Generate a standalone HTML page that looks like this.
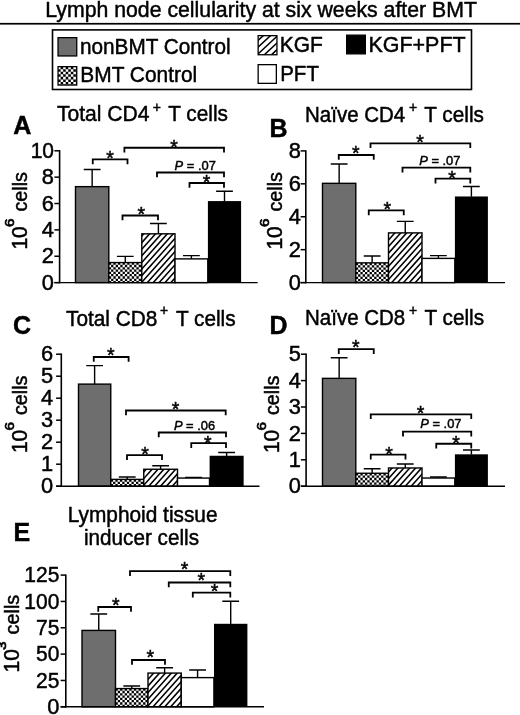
<!DOCTYPE html>
<html><head><meta charset="utf-8"><title>Lymph node cellularity</title>
<style>
html,body{margin:0;padding:0;background:#fff;}
svg{display:block;}
text{font-family:"Liberation Sans",sans-serif;fill:#000;stroke:#000;stroke-width:0.45px;}
.b{font-weight:bold;}
.i{font-style:italic;}
.s{stroke-width:0.7px;}
</style></head><body>
<svg width="520" height="715" viewBox="0 0 520 715">
<rect width="520" height="715" fill="#fff"/>

<text transform="translate(45.30,17.30) scale(1,1.04)" font-size="21.27">Lymph node cellularity at six weeks after BMT</text>
<rect x="0" y="22.9" width="520" height="1.7" fill="#000"/>
<rect x="52.5" y="29.9" width="419" height="59.6" fill="#fff" stroke="#000" stroke-width="1.6"/>
<rect x="58.05" y="37.65" width="18.70" height="18.30" fill="#6e6e6e" stroke="#000" stroke-width="1.3"/>
<text transform="translate(80.00,53.60) scale(1,1.04)" font-size="20.75">nonBMT Control</text>
<text transform="translate(80.30,81.70) scale(1,1.04)" font-size="20.9">BMT Control</text>
<text transform="translate(279.70,51.90) scale(1,1.04)" font-size="21">KGF</text>
<rect x="258.15" y="64.65" width="18.20" height="18.70" fill="#fff" stroke="#000" stroke-width="1.3"/>
<text transform="translate(280.20,81.20) scale(1,1.04)" font-size="20.5">PFT</text>
<rect x="346.65" y="35.15" width="18.70" height="18.70" fill="#000" stroke="#000" stroke-width="1.3"/>
<text transform="translate(368.50,51.70) scale(1,1.04)" font-size="21.45">KGF+PFT</text>
<clipPath id="c1"><rect x="58.05" y="66.65" width="18.70" height="18.40"/></clipPath>
<rect x="58.05" y="66.65" width="18.70" height="18.40" fill="#fff"/>
<path clip-path="url(#c1)" d="M60.60,66.65h2.55v2.55h-2.55zM65.70,66.65h2.55v2.55h-2.55zM70.80,66.65h2.55v2.55h-2.55zM75.90,66.65h2.55v2.55h-2.55zM58.05,69.20h2.55v2.55h-2.55zM63.15,69.20h2.55v2.55h-2.55zM68.25,69.20h2.55v2.55h-2.55zM73.35,69.20h2.55v2.55h-2.55zM78.45,69.20h2.55v2.55h-2.55zM60.60,71.75h2.55v2.55h-2.55zM65.70,71.75h2.55v2.55h-2.55zM70.80,71.75h2.55v2.55h-2.55zM75.90,71.75h2.55v2.55h-2.55zM58.05,74.30h2.55v2.55h-2.55zM63.15,74.30h2.55v2.55h-2.55zM68.25,74.30h2.55v2.55h-2.55zM73.35,74.30h2.55v2.55h-2.55zM78.45,74.30h2.55v2.55h-2.55zM60.60,76.85h2.55v2.55h-2.55zM65.70,76.85h2.55v2.55h-2.55zM70.80,76.85h2.55v2.55h-2.55zM75.90,76.85h2.55v2.55h-2.55zM58.05,79.40h2.55v2.55h-2.55zM63.15,79.40h2.55v2.55h-2.55zM68.25,79.40h2.55v2.55h-2.55zM73.35,79.40h2.55v2.55h-2.55zM78.45,79.40h2.55v2.55h-2.55zM60.60,81.95h2.55v2.55h-2.55zM65.70,81.95h2.55v2.55h-2.55zM70.80,81.95h2.55v2.55h-2.55zM75.90,81.95h2.55v2.55h-2.55zM58.05,84.50h2.55v2.55h-2.55zM63.15,84.50h2.55v2.55h-2.55zM68.25,84.50h2.55v2.55h-2.55zM73.35,84.50h2.55v2.55h-2.55zM78.45,84.50h2.55v2.55h-2.55zM60.60,87.05h2.55v2.55h-2.55zM65.70,87.05h2.55v2.55h-2.55zM70.80,87.05h2.55v2.55h-2.55zM75.90,87.05h2.55v2.55h-2.55z" fill="#000"/>
<rect x="58.05" y="66.65" width="18.70" height="18.40" fill="none" stroke="#000" stroke-width="1.3"/>
<clipPath id="c2"><rect x="258.15" y="35.65" width="18.80" height="19.10"/></clipPath>
<rect x="258.15" y="35.65" width="18.80" height="19.10" fill="#fff"/>
<path clip-path="url(#c2)" d="M256.15,28.86L278.95,7.66M256.15,35.56L278.95,14.36M256.15,42.26L278.95,21.06M256.15,48.96L278.95,27.76M256.15,55.66L278.95,34.46M256.15,62.36L278.95,41.16M256.15,69.06L278.95,47.86M256.15,75.76L278.95,54.56M256.15,82.46L278.95,61.26" stroke="#000" stroke-width="1.55" fill="none"/>
<rect x="258.15" y="35.65" width="18.80" height="19.10" fill="none" stroke="#000" stroke-width="1.3"/>
<path d="M92.15,186.65 V169.52 M83.75,169.52 H100.55" stroke="#000" stroke-width="1.4" fill="none"/>
<rect x="75.50" y="186.65" width="33.30" height="95.95" fill="#6e6e6e" stroke="#000" stroke-width="1.4"/>
<path d="M125.30,262.57 V256.37 M116.90,256.37 H133.70" stroke="#000" stroke-width="1.4" fill="none"/>
<clipPath id="c3"><rect x="108.80" y="262.57" width="33.00" height="20.03"/></clipPath>
<rect x="108.80" y="262.57" width="33.00" height="20.03" fill="#fff"/>
<path clip-path="url(#c3)" d="M108.80,262.57h2.3v2.3h-2.3zM113.40,262.57h2.3v2.3h-2.3zM118.00,262.57h2.3v2.3h-2.3zM122.60,262.57h2.3v2.3h-2.3zM127.20,262.57h2.3v2.3h-2.3zM131.80,262.57h2.3v2.3h-2.3zM136.40,262.57h2.3v2.3h-2.3zM141.00,262.57h2.3v2.3h-2.3zM111.10,264.87h2.3v2.3h-2.3zM115.70,264.87h2.3v2.3h-2.3zM120.30,264.87h2.3v2.3h-2.3zM124.90,264.87h2.3v2.3h-2.3zM129.50,264.87h2.3v2.3h-2.3zM134.10,264.87h2.3v2.3h-2.3zM138.70,264.87h2.3v2.3h-2.3zM143.30,264.87h2.3v2.3h-2.3zM108.80,267.17h2.3v2.3h-2.3zM113.40,267.17h2.3v2.3h-2.3zM118.00,267.17h2.3v2.3h-2.3zM122.60,267.17h2.3v2.3h-2.3zM127.20,267.17h2.3v2.3h-2.3zM131.80,267.17h2.3v2.3h-2.3zM136.40,267.17h2.3v2.3h-2.3zM141.00,267.17h2.3v2.3h-2.3zM111.10,269.47h2.3v2.3h-2.3zM115.70,269.47h2.3v2.3h-2.3zM120.30,269.47h2.3v2.3h-2.3zM124.90,269.47h2.3v2.3h-2.3zM129.50,269.47h2.3v2.3h-2.3zM134.10,269.47h2.3v2.3h-2.3zM138.70,269.47h2.3v2.3h-2.3zM143.30,269.47h2.3v2.3h-2.3zM108.80,271.77h2.3v2.3h-2.3zM113.40,271.77h2.3v2.3h-2.3zM118.00,271.77h2.3v2.3h-2.3zM122.60,271.77h2.3v2.3h-2.3zM127.20,271.77h2.3v2.3h-2.3zM131.80,271.77h2.3v2.3h-2.3zM136.40,271.77h2.3v2.3h-2.3zM141.00,271.77h2.3v2.3h-2.3zM111.10,274.07h2.3v2.3h-2.3zM115.70,274.07h2.3v2.3h-2.3zM120.30,274.07h2.3v2.3h-2.3zM124.90,274.07h2.3v2.3h-2.3zM129.50,274.07h2.3v2.3h-2.3zM134.10,274.07h2.3v2.3h-2.3zM138.70,274.07h2.3v2.3h-2.3zM143.30,274.07h2.3v2.3h-2.3zM108.80,276.37h2.3v2.3h-2.3zM113.40,276.37h2.3v2.3h-2.3zM118.00,276.37h2.3v2.3h-2.3zM122.60,276.37h2.3v2.3h-2.3zM127.20,276.37h2.3v2.3h-2.3zM131.80,276.37h2.3v2.3h-2.3zM136.40,276.37h2.3v2.3h-2.3zM141.00,276.37h2.3v2.3h-2.3zM111.10,278.67h2.3v2.3h-2.3zM115.70,278.67h2.3v2.3h-2.3zM120.30,278.67h2.3v2.3h-2.3zM124.90,278.67h2.3v2.3h-2.3zM129.50,278.67h2.3v2.3h-2.3zM134.10,278.67h2.3v2.3h-2.3zM138.70,278.67h2.3v2.3h-2.3zM143.30,278.67h2.3v2.3h-2.3zM108.80,280.97h2.3v2.3h-2.3zM113.40,280.97h2.3v2.3h-2.3zM118.00,280.97h2.3v2.3h-2.3zM122.60,280.97h2.3v2.3h-2.3zM127.20,280.97h2.3v2.3h-2.3zM131.80,280.97h2.3v2.3h-2.3zM136.40,280.97h2.3v2.3h-2.3zM141.00,280.97h2.3v2.3h-2.3zM111.10,283.27h2.3v2.3h-2.3zM115.70,283.27h2.3v2.3h-2.3zM120.30,283.27h2.3v2.3h-2.3zM124.90,283.27h2.3v2.3h-2.3zM129.50,283.27h2.3v2.3h-2.3zM134.10,283.27h2.3v2.3h-2.3zM138.70,283.27h2.3v2.3h-2.3zM143.30,283.27h2.3v2.3h-2.3z" fill="#000"/>
<rect x="108.80" y="262.57" width="33.00" height="20.03" fill="none" stroke="#000" stroke-width="1.4"/>
<path d="M158.40,233.83 V223.55 M150.00,223.55 H166.80" stroke="#000" stroke-width="1.4" fill="none"/>
<clipPath id="c4"><rect x="141.80" y="233.83" width="33.20" height="48.77"/></clipPath>
<rect x="141.80" y="233.83" width="33.20" height="48.77" fill="#fff"/>
<path clip-path="url(#c4)" d="M139.80,225.04L177.00,183.38M139.80,231.64L177.00,189.98M139.80,238.24L177.00,196.58M139.80,244.84L177.00,203.18M139.80,251.44L177.00,209.78M139.80,258.04L177.00,216.38M139.80,264.64L177.00,222.98M139.80,271.24L177.00,229.58M139.80,277.84L177.00,236.18M139.80,284.44L177.00,242.78M139.80,291.04L177.00,249.38M139.80,297.64L177.00,255.98M139.80,304.24L177.00,262.58M139.80,310.84L177.00,269.18M139.80,317.44L177.00,275.78M139.80,324.04L177.00,282.38M139.80,330.64L177.00,288.98" stroke="#000" stroke-width="1.55" fill="none"/>
<rect x="141.80" y="233.83" width="33.20" height="48.77" fill="none" stroke="#000" stroke-width="1.4"/>
<path d="M191.40,258.88 V255.58 M183.00,255.58 H199.80" stroke="#000" stroke-width="1.4" fill="none"/>
<rect x="175.00" y="258.88" width="32.80" height="23.72" fill="#fff" stroke="#000" stroke-width="1.4"/>
<path d="M224.50,201.28 V191.26 M216.10,191.26 H232.90" stroke="#000" stroke-width="1.4" fill="none"/>
<rect x="207.90" y="201.08" width="33.20" height="81.52" fill="#000"/>
<path d="M59.6,150.10 V283.30" stroke="#000" stroke-width="1.6" fill="none"/>
<path d="M54.4,282.60 H257.7" stroke="#000" stroke-width="1.4" fill="none"/>
<path d="M54.4,282.60 H59.6" stroke="#000" stroke-width="1.5"/>
<text transform="translate(54.00,289.70) scale(1.04,1.04)" font-size="21" text-anchor="end">0</text>
<path d="M54.4,256.24 H59.6" stroke="#000" stroke-width="1.5"/>
<text transform="translate(54.00,263.34) scale(1.04,1.04)" font-size="21" text-anchor="end">2</text>
<path d="M54.4,229.88 H59.6" stroke="#000" stroke-width="1.5"/>
<text transform="translate(54.00,236.98) scale(1.04,1.04)" font-size="21" text-anchor="end">4</text>
<path d="M54.4,203.52 H59.6" stroke="#000" stroke-width="1.5"/>
<text transform="translate(54.00,210.62) scale(1.04,1.04)" font-size="21" text-anchor="end">6</text>
<path d="M54.4,177.16 H59.6" stroke="#000" stroke-width="1.5"/>
<text transform="translate(54.00,184.26) scale(1.04,1.04)" font-size="21" text-anchor="end">8</text>
<path d="M54.4,150.80 H59.6" stroke="#000" stroke-width="1.5"/>
<text transform="translate(54.00,157.90) scale(1.0,1.04)" font-size="21" text-anchor="end">10</text>
<text transform="translate(26.70,249.58) rotate(-90) scale(1,1.04)" font-size="21">10</text>
<text transform="translate(13.70,227.11) rotate(-90) scale(1.18,1.04)" font-size="13" class="s">6</text>
<text transform="translate(26.70,211.59) rotate(-90) scale(1,1.04)" font-size="19.8">cells</text>
<path d="M92.75,164.20000000000002 V159.4 H127.5 V164.20000000000002" stroke="#000" stroke-width="1.8" fill="none"/>
<text transform="translate(106.20,164.64)" font-size="19.5">*</text>
<path d="M124.4,152.55 V147.75 H224 V152.55" stroke="#000" stroke-width="1.8" fill="none"/>
<text transform="translate(170.20,154.04)" font-size="19.5">*</text>
<path d="M157,177.3 V172.5 H224 V177.3" stroke="#000" stroke-width="1.8" fill="none"/>
<text transform="translate(174.60,169.50) scale(1,1.04)" font-size="12.9"><tspan class="i">P</tspan> = .07</text>
<path d="M189.5,187.8 V183 H224 V187.8" stroke="#000" stroke-width="1.8" fill="none"/>
<text transform="translate(202.70,188.84)" font-size="19.5">*</text>
<path d="M122.5,220.3 V215.5 H158 V220.3" stroke="#000" stroke-width="1.8" fill="none"/>
<text transform="translate(137.40,221.34)" font-size="19.5">*</text>
<text transform="translate(56.90,121.40) scale(1,1.04)" font-size="21.1">Total CD4</text>
<text transform="translate(152.81,111.72)" font-size="14">+</text>
<text transform="translate(168.20,121.40) scale(1,1.04)" font-size="20.8">T cells</text>
<text transform="translate(13.30,134.30) scale(1.02,1.04)" font-size="24.6" class="b">A</text>
<path d="M339.15,183.33 V164.07 M330.75,164.07 H347.55" stroke="#000" stroke-width="1.4" fill="none"/>
<rect x="322.50" y="183.33" width="33.30" height="99.27" fill="#6e6e6e" stroke="#000" stroke-width="1.4"/>
<path d="M372.15,262.85 V255.93 M363.75,255.93 H380.55" stroke="#000" stroke-width="1.4" fill="none"/>
<clipPath id="c5"><rect x="355.80" y="262.85" width="32.70" height="19.75"/></clipPath>
<rect x="355.80" y="262.85" width="32.70" height="19.75" fill="#fff"/>
<path clip-path="url(#c5)" d="M355.80,262.85h2.3v2.3h-2.3zM360.40,262.85h2.3v2.3h-2.3zM365.00,262.85h2.3v2.3h-2.3zM369.60,262.85h2.3v2.3h-2.3zM374.20,262.85h2.3v2.3h-2.3zM378.80,262.85h2.3v2.3h-2.3zM383.40,262.85h2.3v2.3h-2.3zM388.00,262.85h2.3v2.3h-2.3zM358.10,265.15h2.3v2.3h-2.3zM362.70,265.15h2.3v2.3h-2.3zM367.30,265.15h2.3v2.3h-2.3zM371.90,265.15h2.3v2.3h-2.3zM376.50,265.15h2.3v2.3h-2.3zM381.10,265.15h2.3v2.3h-2.3zM385.70,265.15h2.3v2.3h-2.3zM390.30,265.15h2.3v2.3h-2.3zM355.80,267.45h2.3v2.3h-2.3zM360.40,267.45h2.3v2.3h-2.3zM365.00,267.45h2.3v2.3h-2.3zM369.60,267.45h2.3v2.3h-2.3zM374.20,267.45h2.3v2.3h-2.3zM378.80,267.45h2.3v2.3h-2.3zM383.40,267.45h2.3v2.3h-2.3zM388.00,267.45h2.3v2.3h-2.3zM358.10,269.75h2.3v2.3h-2.3zM362.70,269.75h2.3v2.3h-2.3zM367.30,269.75h2.3v2.3h-2.3zM371.90,269.75h2.3v2.3h-2.3zM376.50,269.75h2.3v2.3h-2.3zM381.10,269.75h2.3v2.3h-2.3zM385.70,269.75h2.3v2.3h-2.3zM390.30,269.75h2.3v2.3h-2.3zM355.80,272.05h2.3v2.3h-2.3zM360.40,272.05h2.3v2.3h-2.3zM365.00,272.05h2.3v2.3h-2.3zM369.60,272.05h2.3v2.3h-2.3zM374.20,272.05h2.3v2.3h-2.3zM378.80,272.05h2.3v2.3h-2.3zM383.40,272.05h2.3v2.3h-2.3zM388.00,272.05h2.3v2.3h-2.3zM358.10,274.35h2.3v2.3h-2.3zM362.70,274.35h2.3v2.3h-2.3zM367.30,274.35h2.3v2.3h-2.3zM371.90,274.35h2.3v2.3h-2.3zM376.50,274.35h2.3v2.3h-2.3zM381.10,274.35h2.3v2.3h-2.3zM385.70,274.35h2.3v2.3h-2.3zM390.30,274.35h2.3v2.3h-2.3zM355.80,276.65h2.3v2.3h-2.3zM360.40,276.65h2.3v2.3h-2.3zM365.00,276.65h2.3v2.3h-2.3zM369.60,276.65h2.3v2.3h-2.3zM374.20,276.65h2.3v2.3h-2.3zM378.80,276.65h2.3v2.3h-2.3zM383.40,276.65h2.3v2.3h-2.3zM388.00,276.65h2.3v2.3h-2.3zM358.10,278.95h2.3v2.3h-2.3zM362.70,278.95h2.3v2.3h-2.3zM367.30,278.95h2.3v2.3h-2.3zM371.90,278.95h2.3v2.3h-2.3zM376.50,278.95h2.3v2.3h-2.3zM381.10,278.95h2.3v2.3h-2.3zM385.70,278.95h2.3v2.3h-2.3zM390.30,278.95h2.3v2.3h-2.3zM355.80,281.25h2.3v2.3h-2.3zM360.40,281.25h2.3v2.3h-2.3zM365.00,281.25h2.3v2.3h-2.3zM369.60,281.25h2.3v2.3h-2.3zM374.20,281.25h2.3v2.3h-2.3zM378.80,281.25h2.3v2.3h-2.3zM383.40,281.25h2.3v2.3h-2.3zM388.00,281.25h2.3v2.3h-2.3zM358.10,283.55h2.3v2.3h-2.3zM362.70,283.55h2.3v2.3h-2.3zM367.30,283.55h2.3v2.3h-2.3zM371.90,283.55h2.3v2.3h-2.3zM376.50,283.55h2.3v2.3h-2.3zM381.10,283.55h2.3v2.3h-2.3zM385.70,283.55h2.3v2.3h-2.3zM390.30,283.55h2.3v2.3h-2.3z" fill="#000"/>
<rect x="355.80" y="262.85" width="32.70" height="19.75" fill="none" stroke="#000" stroke-width="1.4"/>
<path d="M405.25,232.88 V221.36 M396.85,221.36 H413.65" stroke="#000" stroke-width="1.4" fill="none"/>
<clipPath id="c6"><rect x="388.50" y="232.88" width="33.50" height="49.72"/></clipPath>
<rect x="388.50" y="232.88" width="33.50" height="49.72" fill="#fff"/>
<path clip-path="url(#c6)" d="M386.50,222.44L424.00,180.44M386.50,229.04L424.00,187.04M386.50,235.64L424.00,193.64M386.50,242.24L424.00,200.24M386.50,248.84L424.00,206.84M386.50,255.44L424.00,213.44M386.50,262.04L424.00,220.04M386.50,268.64L424.00,226.64M386.50,275.24L424.00,233.24M386.50,281.84L424.00,239.84M386.50,288.44L424.00,246.44M386.50,295.04L424.00,253.04M386.50,301.64L424.00,259.64M386.50,308.24L424.00,266.24M386.50,314.84L424.00,272.84M386.50,321.44L424.00,279.44M386.50,328.04L424.00,286.04M386.50,334.64L424.00,292.64" stroke="#000" stroke-width="1.55" fill="none"/>
<rect x="388.50" y="232.88" width="33.50" height="49.72" fill="none" stroke="#000" stroke-width="1.4"/>
<path d="M438.40,258.40 V255.60 M430.00,255.60 H446.80" stroke="#000" stroke-width="1.4" fill="none"/>
<rect x="422.00" y="258.40" width="32.80" height="24.20" fill="#fff" stroke="#000" stroke-width="1.4"/>
<path d="M471.40,196.67 V186.46 M463.00,186.46 H479.80" stroke="#000" stroke-width="1.4" fill="none"/>
<rect x="454.90" y="196.47" width="33.00" height="86.13" fill="#000"/>
<path d="M305.8,150.20 V283.30" stroke="#000" stroke-width="1.6" fill="none"/>
<path d="M300.6,282.60 H505" stroke="#000" stroke-width="1.4" fill="none"/>
<path d="M300.6,282.60 H305.8" stroke="#000" stroke-width="1.5"/>
<text transform="translate(301.00,289.70) scale(1.04,1.04)" font-size="21" text-anchor="end">0</text>
<path d="M300.6,249.68 H305.8" stroke="#000" stroke-width="1.5"/>
<text transform="translate(301.00,256.77) scale(1.04,1.04)" font-size="21" text-anchor="end">2</text>
<path d="M300.6,216.75 H305.8" stroke="#000" stroke-width="1.5"/>
<text transform="translate(301.00,223.85) scale(1.04,1.04)" font-size="21" text-anchor="end">4</text>
<path d="M300.6,183.83 H305.8" stroke="#000" stroke-width="1.5"/>
<text transform="translate(301.00,190.92) scale(1.04,1.04)" font-size="21" text-anchor="end">6</text>
<path d="M300.6,150.90 H305.8" stroke="#000" stroke-width="1.5"/>
<text transform="translate(301.00,158.00) scale(1.04,1.04)" font-size="21" text-anchor="end">8</text>
<text transform="translate(282.20,249.58) rotate(-90) scale(1,1.04)" font-size="21">10</text>
<text transform="translate(269.20,227.11) rotate(-90) scale(1.18,1.04)" font-size="13" class="s">6</text>
<text transform="translate(282.20,211.59) rotate(-90) scale(1,1.04)" font-size="19.8">cells</text>
<path d="M338.75,159.8 V155.0 H373.75 V159.8" stroke="#000" stroke-width="1.8" fill="none"/>
<text transform="translate(351.95,160.04)" font-size="19.5">*</text>
<path d="M370.5,148.10000000000002 V143.3 H470.3 V148.10000000000002" stroke="#000" stroke-width="1.8" fill="none"/>
<text transform="translate(416.20,149.04)" font-size="19.5">*</text>
<path d="M402.5,172.5 V167.7 H470.3 V172.5" stroke="#000" stroke-width="1.8" fill="none"/>
<text transform="translate(419.20,164.50) scale(1,1.04)" font-size="12.9"><tspan class="i">P</tspan> = .07</text>
<path d="M435.5,183.4 V178.6 H470.3 V183.4" stroke="#000" stroke-width="1.8" fill="none"/>
<text transform="translate(448.20,185.04)" font-size="19.5">*</text>
<path d="M368.75,215.20000000000002 V210.4 H403.75 V215.20000000000002" stroke="#000" stroke-width="1.8" fill="none"/>
<text transform="translate(383.60,215.94)" font-size="19.5">*</text>
<text transform="translate(305.00,121.50) scale(1,1.04)" font-size="20.5">Naïve CD4</text>
<text transform="translate(408.91,111.72)" font-size="14">+</text>
<text transform="translate(424.20,121.50) scale(1,1.04)" font-size="20.8">T cells</text>
<text transform="translate(269.50,137.00) scale(1.0,1.04)" font-size="25" class="b">B</text>
<path d="M94.62,384.12 V365.64 M86.22,365.64 H103.03" stroke="#000" stroke-width="1.4" fill="none"/>
<rect x="78.50" y="384.12" width="32.25" height="102.08" fill="#6e6e6e" stroke="#000" stroke-width="1.4"/>
<path d="M127.25,479.38 V476.96 M118.85,476.96 H135.65" stroke="#000" stroke-width="1.4" fill="none"/>
<clipPath id="c7"><rect x="110.75" y="479.38" width="33.00" height="6.82"/></clipPath>
<rect x="110.75" y="479.38" width="33.00" height="6.82" fill="#fff"/>
<path clip-path="url(#c7)" d="M110.75,479.38h2.3v2.3h-2.3zM115.35,479.38h2.3v2.3h-2.3zM119.95,479.38h2.3v2.3h-2.3zM124.55,479.38h2.3v2.3h-2.3zM129.15,479.38h2.3v2.3h-2.3zM133.75,479.38h2.3v2.3h-2.3zM138.35,479.38h2.3v2.3h-2.3zM142.95,479.38h2.3v2.3h-2.3zM113.05,481.68h2.3v2.3h-2.3zM117.65,481.68h2.3v2.3h-2.3zM122.25,481.68h2.3v2.3h-2.3zM126.85,481.68h2.3v2.3h-2.3zM131.45,481.68h2.3v2.3h-2.3zM136.05,481.68h2.3v2.3h-2.3zM140.65,481.68h2.3v2.3h-2.3zM145.25,481.68h2.3v2.3h-2.3zM110.75,483.98h2.3v2.3h-2.3zM115.35,483.98h2.3v2.3h-2.3zM119.95,483.98h2.3v2.3h-2.3zM124.55,483.98h2.3v2.3h-2.3zM129.15,483.98h2.3v2.3h-2.3zM133.75,483.98h2.3v2.3h-2.3zM138.35,483.98h2.3v2.3h-2.3zM142.95,483.98h2.3v2.3h-2.3zM113.05,486.28h2.3v2.3h-2.3zM117.65,486.28h2.3v2.3h-2.3zM122.25,486.28h2.3v2.3h-2.3zM126.85,486.28h2.3v2.3h-2.3zM131.45,486.28h2.3v2.3h-2.3zM136.05,486.28h2.3v2.3h-2.3zM140.65,486.28h2.3v2.3h-2.3zM145.25,486.28h2.3v2.3h-2.3z" fill="#000"/>
<rect x="110.75" y="479.38" width="33.00" height="6.82" fill="none" stroke="#000" stroke-width="1.4"/>
<path d="M160.62,469.26 V465.74 M152.22,465.74 H169.03" stroke="#000" stroke-width="1.4" fill="none"/>
<clipPath id="c8"><rect x="143.75" y="469.26" width="33.75" height="16.94"/></clipPath>
<rect x="143.75" y="469.26" width="33.75" height="16.94" fill="#fff"/>
<path clip-path="url(#c8)" d="M141.75,461.04L179.50,418.76M141.75,467.64L179.50,425.36M141.75,474.24L179.50,431.96M141.75,480.84L179.50,438.56M141.75,487.44L179.50,445.16M141.75,494.04L179.50,451.76M141.75,500.64L179.50,458.36M141.75,507.24L179.50,464.96M141.75,513.84L179.50,471.56M141.75,520.44L179.50,478.16M141.75,527.04L179.50,484.76M141.75,533.64L179.50,491.36" stroke="#000" stroke-width="1.55" fill="none"/>
<rect x="143.75" y="469.26" width="33.75" height="16.94" fill="none" stroke="#000" stroke-width="1.4"/>
<path d="M193.50,478.06 V477.40 M185.10,477.40 H201.90" stroke="#000" stroke-width="1.4" fill="none"/>
<rect x="177.50" y="478.06" width="32.00" height="8.14" fill="#fff" stroke="#000" stroke-width="1.4"/>
<path d="M226.62,455.95 V452.43 M218.22,452.43 H235.03" stroke="#000" stroke-width="1.4" fill="none"/>
<rect x="209.60" y="455.75" width="34.05" height="30.45" fill="#000"/>
<path d="M61.3,353.50 V486.90" stroke="#000" stroke-width="1.6" fill="none"/>
<path d="M56.099999999999994,486.20 H259.5" stroke="#000" stroke-width="1.4" fill="none"/>
<path d="M56.099999999999994,486.20 H61.3" stroke="#000" stroke-width="1.5"/>
<text transform="translate(53.20,493.30) scale(1.04,1.04)" font-size="21" text-anchor="end">0</text>
<path d="M56.099999999999994,464.20 H61.3" stroke="#000" stroke-width="1.5"/>
<text transform="translate(53.20,471.30) scale(1.04,1.04)" font-size="21" text-anchor="end">1</text>
<path d="M56.099999999999994,442.20 H61.3" stroke="#000" stroke-width="1.5"/>
<text transform="translate(53.20,449.30) scale(1.04,1.04)" font-size="21" text-anchor="end">2</text>
<path d="M56.099999999999994,420.20 H61.3" stroke="#000" stroke-width="1.5"/>
<text transform="translate(53.20,427.30) scale(1.04,1.04)" font-size="21" text-anchor="end">3</text>
<path d="M56.099999999999994,398.20 H61.3" stroke="#000" stroke-width="1.5"/>
<text transform="translate(53.20,405.30) scale(1.04,1.04)" font-size="21" text-anchor="end">4</text>
<path d="M56.099999999999994,376.20 H61.3" stroke="#000" stroke-width="1.5"/>
<text transform="translate(53.20,383.30) scale(1.04,1.04)" font-size="21" text-anchor="end">5</text>
<path d="M56.099999999999994,354.20 H61.3" stroke="#000" stroke-width="1.5"/>
<text transform="translate(53.20,361.30) scale(1.04,1.04)" font-size="21" text-anchor="end">6</text>
<text transform="translate(26.70,453.08) rotate(-90) scale(1,1.04)" font-size="21">10</text>
<text transform="translate(13.70,430.61) rotate(-90) scale(1.18,1.04)" font-size="13" class="s">6</text>
<text transform="translate(26.70,415.09) rotate(-90) scale(1,1.04)" font-size="19.8">cells</text>
<path d="M93.75,361.8 V357 H128.6 V361.8" stroke="#000" stroke-width="1.8" fill="none"/>
<text transform="translate(106.95,362.04)" font-size="19.5">*</text>
<path d="M126,415.3 V410.5 H225.7 V415.3" stroke="#000" stroke-width="1.8" fill="none"/>
<text transform="translate(171.70,416.04)" font-size="19.5">*</text>
<path d="M158.75,437.3 V432.5 H226 V437.3" stroke="#000" stroke-width="1.8" fill="none"/>
<text transform="translate(173.90,429.50) scale(1,1.04)" font-size="12.9"><tspan class="i">P</tspan> = .06</text>
<path d="M191.25,448.0 V443.2 H226 V448.0" stroke="#000" stroke-width="1.8" fill="none"/>
<text transform="translate(203.90,449.54)" font-size="19.5">*</text>
<path d="M127,460.0 V455.2 H162 V460.0" stroke="#000" stroke-width="1.8" fill="none"/>
<text transform="translate(141.20,461.24)" font-size="19.5">*</text>
<text transform="translate(66.00,325.50) scale(1,1.04)" font-size="20.8">Total CD8</text>
<text transform="translate(160.11,315.42)" font-size="14">+</text>
<text transform="translate(175.90,325.50) scale(1,1.04)" font-size="20.8">T cells</text>
<text transform="translate(12.90,334.00) scale(1.0,1.04)" font-size="25" class="b">C</text>
<path d="M339.15,378.36 V357.76 M330.75,357.76 H347.55" stroke="#000" stroke-width="1.4" fill="none"/>
<rect x="322.50" y="378.36" width="33.30" height="107.84" fill="#6e6e6e" stroke="#000" stroke-width="1.4"/>
<path d="M372.15,473.26 V468.78 M363.75,468.78 H380.55" stroke="#000" stroke-width="1.4" fill="none"/>
<clipPath id="c9"><rect x="355.80" y="473.26" width="32.70" height="12.94"/></clipPath>
<rect x="355.80" y="473.26" width="32.70" height="12.94" fill="#fff"/>
<path clip-path="url(#c9)" d="M355.80,473.26h2.3v2.3h-2.3zM360.40,473.26h2.3v2.3h-2.3zM365.00,473.26h2.3v2.3h-2.3zM369.60,473.26h2.3v2.3h-2.3zM374.20,473.26h2.3v2.3h-2.3zM378.80,473.26h2.3v2.3h-2.3zM383.40,473.26h2.3v2.3h-2.3zM388.00,473.26h2.3v2.3h-2.3zM358.10,475.56h2.3v2.3h-2.3zM362.70,475.56h2.3v2.3h-2.3zM367.30,475.56h2.3v2.3h-2.3zM371.90,475.56h2.3v2.3h-2.3zM376.50,475.56h2.3v2.3h-2.3zM381.10,475.56h2.3v2.3h-2.3zM385.70,475.56h2.3v2.3h-2.3zM390.30,475.56h2.3v2.3h-2.3zM355.80,477.86h2.3v2.3h-2.3zM360.40,477.86h2.3v2.3h-2.3zM365.00,477.86h2.3v2.3h-2.3zM369.60,477.86h2.3v2.3h-2.3zM374.20,477.86h2.3v2.3h-2.3zM378.80,477.86h2.3v2.3h-2.3zM383.40,477.86h2.3v2.3h-2.3zM388.00,477.86h2.3v2.3h-2.3zM358.10,480.16h2.3v2.3h-2.3zM362.70,480.16h2.3v2.3h-2.3zM367.30,480.16h2.3v2.3h-2.3zM371.90,480.16h2.3v2.3h-2.3zM376.50,480.16h2.3v2.3h-2.3zM381.10,480.16h2.3v2.3h-2.3zM385.70,480.16h2.3v2.3h-2.3zM390.30,480.16h2.3v2.3h-2.3zM355.80,482.46h2.3v2.3h-2.3zM360.40,482.46h2.3v2.3h-2.3zM365.00,482.46h2.3v2.3h-2.3zM369.60,482.46h2.3v2.3h-2.3zM374.20,482.46h2.3v2.3h-2.3zM378.80,482.46h2.3v2.3h-2.3zM383.40,482.46h2.3v2.3h-2.3zM388.00,482.46h2.3v2.3h-2.3zM358.10,484.76h2.3v2.3h-2.3zM362.70,484.76h2.3v2.3h-2.3zM367.30,484.76h2.3v2.3h-2.3zM371.90,484.76h2.3v2.3h-2.3zM376.50,484.76h2.3v2.3h-2.3zM381.10,484.76h2.3v2.3h-2.3zM385.70,484.76h2.3v2.3h-2.3zM390.30,484.76h2.3v2.3h-2.3zM355.80,487.06h2.3v2.3h-2.3zM360.40,487.06h2.3v2.3h-2.3zM365.00,487.06h2.3v2.3h-2.3zM369.60,487.06h2.3v2.3h-2.3zM374.20,487.06h2.3v2.3h-2.3zM378.80,487.06h2.3v2.3h-2.3zM383.40,487.06h2.3v2.3h-2.3zM388.00,487.06h2.3v2.3h-2.3z" fill="#000"/>
<rect x="355.80" y="473.26" width="32.70" height="12.94" fill="none" stroke="#000" stroke-width="1.4"/>
<path d="M405.25,467.98 V464.02 M396.85,464.02 H413.65" stroke="#000" stroke-width="1.4" fill="none"/>
<clipPath id="c10"><rect x="388.50" y="467.98" width="33.50" height="18.22"/></clipPath>
<rect x="388.50" y="467.98" width="33.50" height="18.22" fill="#fff"/>
<path clip-path="url(#c10)" d="M386.50,461.04L424.00,419.04M386.50,467.64L424.00,425.64M386.50,474.24L424.00,432.24M386.50,480.84L424.00,438.84M386.50,487.44L424.00,445.44M386.50,494.04L424.00,452.04M386.50,500.64L424.00,458.64M386.50,507.24L424.00,465.24M386.50,513.84L424.00,471.84M386.50,520.44L424.00,478.44M386.50,527.04L424.00,485.04M386.50,533.64L424.00,491.64" stroke="#000" stroke-width="1.55" fill="none"/>
<rect x="388.50" y="467.98" width="33.50" height="18.22" fill="none" stroke="#000" stroke-width="1.4"/>
<path d="M438.40,478.02 V476.96 M430.00,476.96 H446.80" stroke="#000" stroke-width="1.4" fill="none"/>
<rect x="422.00" y="478.02" width="32.80" height="8.18" fill="#fff" stroke="#000" stroke-width="1.4"/>
<path d="M471.40,454.52 V450.03 M463.00,450.03 H479.80" stroke="#000" stroke-width="1.4" fill="none"/>
<rect x="454.90" y="454.32" width="33.00" height="31.88" fill="#000"/>
<path d="M306.1,353.50 V486.90" stroke="#000" stroke-width="1.6" fill="none"/>
<path d="M300.90000000000003,486.20 H505" stroke="#000" stroke-width="1.4" fill="none"/>
<path d="M300.90000000000003,486.20 H306.1" stroke="#000" stroke-width="1.5"/>
<text transform="translate(301.00,493.30) scale(1.04,1.04)" font-size="21" text-anchor="end">0</text>
<path d="M300.90000000000003,459.80 H306.1" stroke="#000" stroke-width="1.5"/>
<text transform="translate(301.00,466.90) scale(1.04,1.04)" font-size="21" text-anchor="end">1</text>
<path d="M300.90000000000003,433.40 H306.1" stroke="#000" stroke-width="1.5"/>
<text transform="translate(301.00,440.50) scale(1.04,1.04)" font-size="21" text-anchor="end">2</text>
<path d="M300.90000000000003,407.00 H306.1" stroke="#000" stroke-width="1.5"/>
<text transform="translate(301.00,414.10) scale(1.04,1.04)" font-size="21" text-anchor="end">3</text>
<path d="M300.90000000000003,380.60 H306.1" stroke="#000" stroke-width="1.5"/>
<text transform="translate(301.00,387.70) scale(1.04,1.04)" font-size="21" text-anchor="end">4</text>
<path d="M300.90000000000003,354.20 H306.1" stroke="#000" stroke-width="1.5"/>
<text transform="translate(301.00,361.30) scale(1.04,1.04)" font-size="21" text-anchor="end">5</text>
<text transform="translate(279.40,453.08) rotate(-90) scale(1,1.04)" font-size="21">10</text>
<text transform="translate(266.40,430.61) rotate(-90) scale(1.18,1.04)" font-size="13" class="s">6</text>
<text transform="translate(279.40,415.09) rotate(-90) scale(1,1.04)" font-size="19.8">cells</text>
<path d="M338.75,354.0 V349.2 H373.75 V354.0" stroke="#000" stroke-width="1.8" fill="none"/>
<text transform="translate(351.95,353.84)" font-size="19.5">*</text>
<path d="M370.75,419.1 V414.3 H471.25 V419.1" stroke="#000" stroke-width="1.8" fill="none"/>
<text transform="translate(416.70,420.04)" font-size="19.5">*</text>
<path d="M403,436.40000000000003 V431.6 H471.25 V436.40000000000003" stroke="#000" stroke-width="1.8" fill="none"/>
<text transform="translate(420.30,428.30) scale(1,1.04)" font-size="12.9"><tspan class="i">P</tspan> = .07</text>
<path d="M436.25,448.55 V443.75 H471.25 V448.55" stroke="#000" stroke-width="1.8" fill="none"/>
<text transform="translate(452.20,450.44)" font-size="19.5">*</text>
<path d="M370.75,459.5 V454.7 H405.5 V459.5" stroke="#000" stroke-width="1.8" fill="none"/>
<text transform="translate(385.20,460.54)" font-size="19.5">*</text>
<text transform="translate(305.00,325.40) scale(1,1.04)" font-size="20.5">Naïve CD8</text>
<text transform="translate(408.91,315.42)" font-size="14">+</text>
<text transform="translate(424.40,325.40) scale(1,1.04)" font-size="20.8">T cells</text>
<text transform="translate(269.40,333.70) scale(1.0,1.04)" font-size="25" class="b">D</text>
<path d="M98.75,630.41 V613.98 M90.35,613.98 H107.15" stroke="#000" stroke-width="1.4" fill="none"/>
<rect x="82.00" y="630.41" width="33.50" height="76.39" fill="#6e6e6e" stroke="#000" stroke-width="1.4"/>
<path d="M131.75,688.57 V685.94 M123.35,685.94 H140.15" stroke="#000" stroke-width="1.4" fill="none"/>
<clipPath id="c11"><rect x="115.50" y="688.57" width="32.50" height="18.23"/></clipPath>
<rect x="115.50" y="688.57" width="32.50" height="18.23" fill="#fff"/>
<path clip-path="url(#c11)" d="M115.50,688.57h2.3v2.3h-2.3zM120.10,688.57h2.3v2.3h-2.3zM124.70,688.57h2.3v2.3h-2.3zM129.30,688.57h2.3v2.3h-2.3zM133.90,688.57h2.3v2.3h-2.3zM138.50,688.57h2.3v2.3h-2.3zM143.10,688.57h2.3v2.3h-2.3zM147.70,688.57h2.3v2.3h-2.3zM117.80,690.87h2.3v2.3h-2.3zM122.40,690.87h2.3v2.3h-2.3zM127.00,690.87h2.3v2.3h-2.3zM131.60,690.87h2.3v2.3h-2.3zM136.20,690.87h2.3v2.3h-2.3zM140.80,690.87h2.3v2.3h-2.3zM145.40,690.87h2.3v2.3h-2.3zM150.00,690.87h2.3v2.3h-2.3zM115.50,693.17h2.3v2.3h-2.3zM120.10,693.17h2.3v2.3h-2.3zM124.70,693.17h2.3v2.3h-2.3zM129.30,693.17h2.3v2.3h-2.3zM133.90,693.17h2.3v2.3h-2.3zM138.50,693.17h2.3v2.3h-2.3zM143.10,693.17h2.3v2.3h-2.3zM147.70,693.17h2.3v2.3h-2.3zM117.80,695.47h2.3v2.3h-2.3zM122.40,695.47h2.3v2.3h-2.3zM127.00,695.47h2.3v2.3h-2.3zM131.60,695.47h2.3v2.3h-2.3zM136.20,695.47h2.3v2.3h-2.3zM140.80,695.47h2.3v2.3h-2.3zM145.40,695.47h2.3v2.3h-2.3zM150.00,695.47h2.3v2.3h-2.3zM115.50,697.77h2.3v2.3h-2.3zM120.10,697.77h2.3v2.3h-2.3zM124.70,697.77h2.3v2.3h-2.3zM129.30,697.77h2.3v2.3h-2.3zM133.90,697.77h2.3v2.3h-2.3zM138.50,697.77h2.3v2.3h-2.3zM143.10,697.77h2.3v2.3h-2.3zM147.70,697.77h2.3v2.3h-2.3zM117.80,700.07h2.3v2.3h-2.3zM122.40,700.07h2.3v2.3h-2.3zM127.00,700.07h2.3v2.3h-2.3zM131.60,700.07h2.3v2.3h-2.3zM136.20,700.07h2.3v2.3h-2.3zM140.80,700.07h2.3v2.3h-2.3zM145.40,700.07h2.3v2.3h-2.3zM150.00,700.07h2.3v2.3h-2.3zM115.50,702.37h2.3v2.3h-2.3zM120.10,702.37h2.3v2.3h-2.3zM124.70,702.37h2.3v2.3h-2.3zM129.30,702.37h2.3v2.3h-2.3zM133.90,702.37h2.3v2.3h-2.3zM138.50,702.37h2.3v2.3h-2.3zM143.10,702.37h2.3v2.3h-2.3zM147.70,702.37h2.3v2.3h-2.3zM117.80,704.67h2.3v2.3h-2.3zM122.40,704.67h2.3v2.3h-2.3zM127.00,704.67h2.3v2.3h-2.3zM131.60,704.67h2.3v2.3h-2.3zM136.20,704.67h2.3v2.3h-2.3zM140.80,704.67h2.3v2.3h-2.3zM145.40,704.67h2.3v2.3h-2.3zM150.00,704.67h2.3v2.3h-2.3zM115.50,706.97h2.3v2.3h-2.3zM120.10,706.97h2.3v2.3h-2.3zM124.70,706.97h2.3v2.3h-2.3zM129.30,706.97h2.3v2.3h-2.3zM133.90,706.97h2.3v2.3h-2.3zM138.50,706.97h2.3v2.3h-2.3zM143.10,706.97h2.3v2.3h-2.3zM147.70,706.97h2.3v2.3h-2.3z" fill="#000"/>
<rect x="115.50" y="688.57" width="32.50" height="18.23" fill="none" stroke="#000" stroke-width="1.4"/>
<path d="M164.62,673.08 V667.82 M156.22,667.82 H173.03" stroke="#000" stroke-width="1.4" fill="none"/>
<clipPath id="c12"><rect x="148.00" y="673.08" width="33.25" height="33.72"/></clipPath>
<rect x="148.00" y="673.08" width="33.25" height="33.72" fill="#fff"/>
<path clip-path="url(#c12)" d="M146.00,668.44L183.25,626.72M146.00,675.04L183.25,633.32M146.00,681.64L183.25,639.92M146.00,688.24L183.25,646.52M146.00,694.84L183.25,653.12M146.00,701.44L183.25,659.72M146.00,708.04L183.25,666.32M146.00,714.64L183.25,672.92M146.00,721.24L183.25,679.52M146.00,727.84L183.25,686.12M146.00,734.44L183.25,692.72M146.00,741.04L183.25,699.32M146.00,747.64L183.25,705.92M146.00,754.24L183.25,712.52" stroke="#000" stroke-width="1.55" fill="none"/>
<rect x="148.00" y="673.08" width="33.25" height="33.72" fill="none" stroke="#000" stroke-width="1.4"/>
<path d="M197.57,677.62 V670.03 M189.17,670.03 H205.97" stroke="#000" stroke-width="1.4" fill="none"/>
<rect x="181.25" y="677.62" width="32.65" height="29.18" fill="#fff" stroke="#000" stroke-width="1.4"/>
<path d="M230.70,623.99 V601.23 M222.30,601.23 H239.10" stroke="#000" stroke-width="1.4" fill="none"/>
<rect x="214.00" y="623.79" width="33.40" height="83.01" fill="#000"/>
<path d="M65.8,574.40 V707.50" stroke="#000" stroke-width="1.6" fill="none"/>
<path d="M60.599999999999994,706.80 H264" stroke="#000" stroke-width="1.4" fill="none"/>
<path d="M60.599999999999994,706.80 H65.8" stroke="#000" stroke-width="1.5"/>
<text transform="translate(59.30,713.90) scale(1.04,1.04)" font-size="21" text-anchor="end">0</text>
<path d="M60.599999999999994,680.46 H65.8" stroke="#000" stroke-width="1.5"/>
<text transform="translate(59.30,687.56) scale(1.0,1.04)" font-size="21" text-anchor="end">25</text>
<path d="M60.599999999999994,654.12 H65.8" stroke="#000" stroke-width="1.5"/>
<text transform="translate(59.30,661.22) scale(1.0,1.04)" font-size="21" text-anchor="end">50</text>
<path d="M60.599999999999994,627.78 H65.8" stroke="#000" stroke-width="1.5"/>
<text transform="translate(59.30,634.88) scale(1.0,1.04)" font-size="21" text-anchor="end">75</text>
<path d="M60.599999999999994,601.44 H65.8" stroke="#000" stroke-width="1.5"/>
<text transform="translate(59.30,608.54) scale(1.0,1.04)" font-size="21" text-anchor="end">100</text>
<path d="M60.599999999999994,575.10 H65.8" stroke="#000" stroke-width="1.5"/>
<text transform="translate(59.30,582.20) scale(1.0,1.04)" font-size="21" text-anchor="end">125</text>
<text transform="translate(19.10,672.38) rotate(-90) scale(1,1.04)" font-size="21">10</text>
<text transform="translate(6.10,649.91) rotate(-90) scale(1.18,1.04)" font-size="13" class="s">3</text>
<text transform="translate(19.10,634.39) rotate(-90) scale(1,1.04)" font-size="19.8">cells</text>
<path d="M98.25,611.8 V607 H131 V611.8" stroke="#000" stroke-width="1.8" fill="none"/>
<text transform="translate(111.95,612.24)" font-size="19.5">*</text>
<path d="M130,576.0 V571.2 H230.3 V576.0" stroke="#000" stroke-width="1.8" fill="none"/>
<text transform="translate(180.70,575.84)" font-size="19.5">*</text>
<path d="M168.75,587.3 V582.5 H230.3 V587.3" stroke="#000" stroke-width="1.8" fill="none"/>
<text transform="translate(197.45,587.34)" font-size="19.5">*</text>
<path d="M192.8,597.5 V592.7 H230.3 V597.5" stroke="#000" stroke-width="1.8" fill="none"/>
<text transform="translate(210.70,598.34)" font-size="19.5">*</text>
<path d="M132,664.8 V660 H165 V664.8" stroke="#000" stroke-width="1.8" fill="none"/>
<text transform="translate(146.50,664.04)" font-size="19.5">*</text>
<text transform="translate(67.70,521.80) scale(1,1.04)" font-size="20.85">Lymphoid tissue</text>
<text transform="translate(84.00,545.00) scale(1,1.04)" font-size="20.7">inducer cells</text>
<text transform="translate(13.50,541.10) scale(1.0,1.04)" font-size="25" class="b">E</text>
</svg></body></html>
